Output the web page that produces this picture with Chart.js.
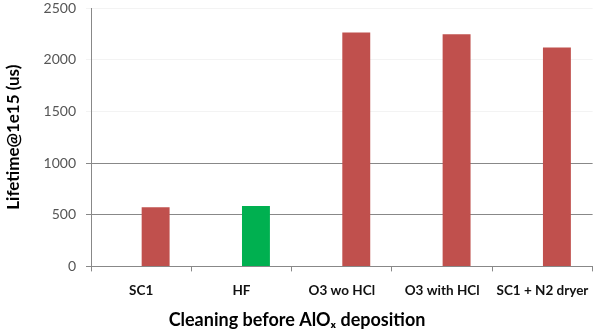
<!DOCTYPE html>
<html>
<head>
    <meta charset="UTF-8">
    <title>Lifetime vs cleaning</title>
    <script src="https://cdn.jsdelivr.net/npm/chart.js"></script>
    <style>
        html, body { margin: 0; padding: 0; background: #ffffff; }
        #wrap { width: 600px; height: 332px; position: relative; }
    </style>
</head>
<body>
    <div id="wrap">
        <canvas id="lifetimeChart"></canvas>
    </div>

    <script>
        // data
        var cleaningSteps = ['SC1', 'HF', 'O3 wo HCl', 'O3 with HCl', 'SC1 + N2 dryer'];
        var lifetimeUs = [572, 584, 2262, 2245, 2117];
        var emptySeries = [null, null, null, null, null];
        var yTicks = [0, 500, 1000, 1500, 2000, 2500];

        var RED = '#C0504D';
        var GREEN = '#00B050';
        var barColors = cleaningSteps.map(function (name) {
            return name === 'HF' ? GREEN : RED;
        });

        var ctx = document.getElementById('lifetimeChart').getContext('2d');
        var chart = new Chart(ctx, {
            type: 'bar',
            data: {
                labels: cleaningSteps,
                datasets: [{
                    label: '',
                    data: emptySeries,
                    backgroundColor: RED
                }, {
                    label: 'Lifetime',
                    data: lifetimeUs,
                    backgroundColor: barColors
                }]
            },
            options: {
                responsive: true,
                maintainAspectRatio: false,
                animation: false,
                categoryPercentage: 0.577,
                barPercentage: 0.965,
                layout: { padding: { left: 0, right: 6, top: 8, bottom: 0 } },
                plugins: {
                    legend: { display: false },
                    tooltip: { enabled: false },
                    // the axis title sits centred on the whole picture, so use the chart title
                    title: {
                        display: true,
                        position: 'bottom',
                        text: 'Cleaning before AlOₓ deposition',
                        color: '#000000',
                        font: { family: 'Lato', size: 18, weight: 'bold' },
                        padding: { top: 5, bottom: 1 }
                    }
                },
                scales: {
                    x: {
                        grid: {
                            offset: true,
                            drawOnChartArea: false,
                            tickLength: 5,
                            color: '#888888'
                        },
                        border: { color: '#888888' },
                        ticks: {
                            padding: 11,
                            maxRotation: 0,
                            minRotation: 0,
                            autoSkip: false,
                            color: '#111111',
                            font: { family: 'Lato', size: 13.5, weight: 'bold' }
                        },
                        afterFit: function (scale) { scale.height = 38; }
                    },
                    y: {
                        min: 0,
                        max: 2500,
                        afterBuildTicks: function (scale) {
                            scale.ticks = yTicks.map(function (v) { return { value: v }; });
                        },
                        grid: {
                            tickLength: 5,
                            color: function (c) {
                                return c.tick && c.tick.value >= 1500 ? '#f3f3f3' : '#888888';
                            }
                        },
                        border: { color: '#888888' },
                        ticks: {
                            padding: 10,
                            color: '#555555',
                            font: { family: 'Lato', size: 14 },
                            callback: function (v) { return String(v); }
                        },
                        title: {
                            display: true,
                            text: 'Lifetime@1e15 (us)',
                            color: '#000000',
                            font: { family: 'Lato', size: 17, weight: 'bold' },
                            padding: { top: 3, bottom: 4 }
                        },
                        afterFit: function (scale) {
                            scale.width = 91;
                            scale.paddingTop = 0;
                        }
                    }
                }
            }
        });
    </script>
</body>
</html>
